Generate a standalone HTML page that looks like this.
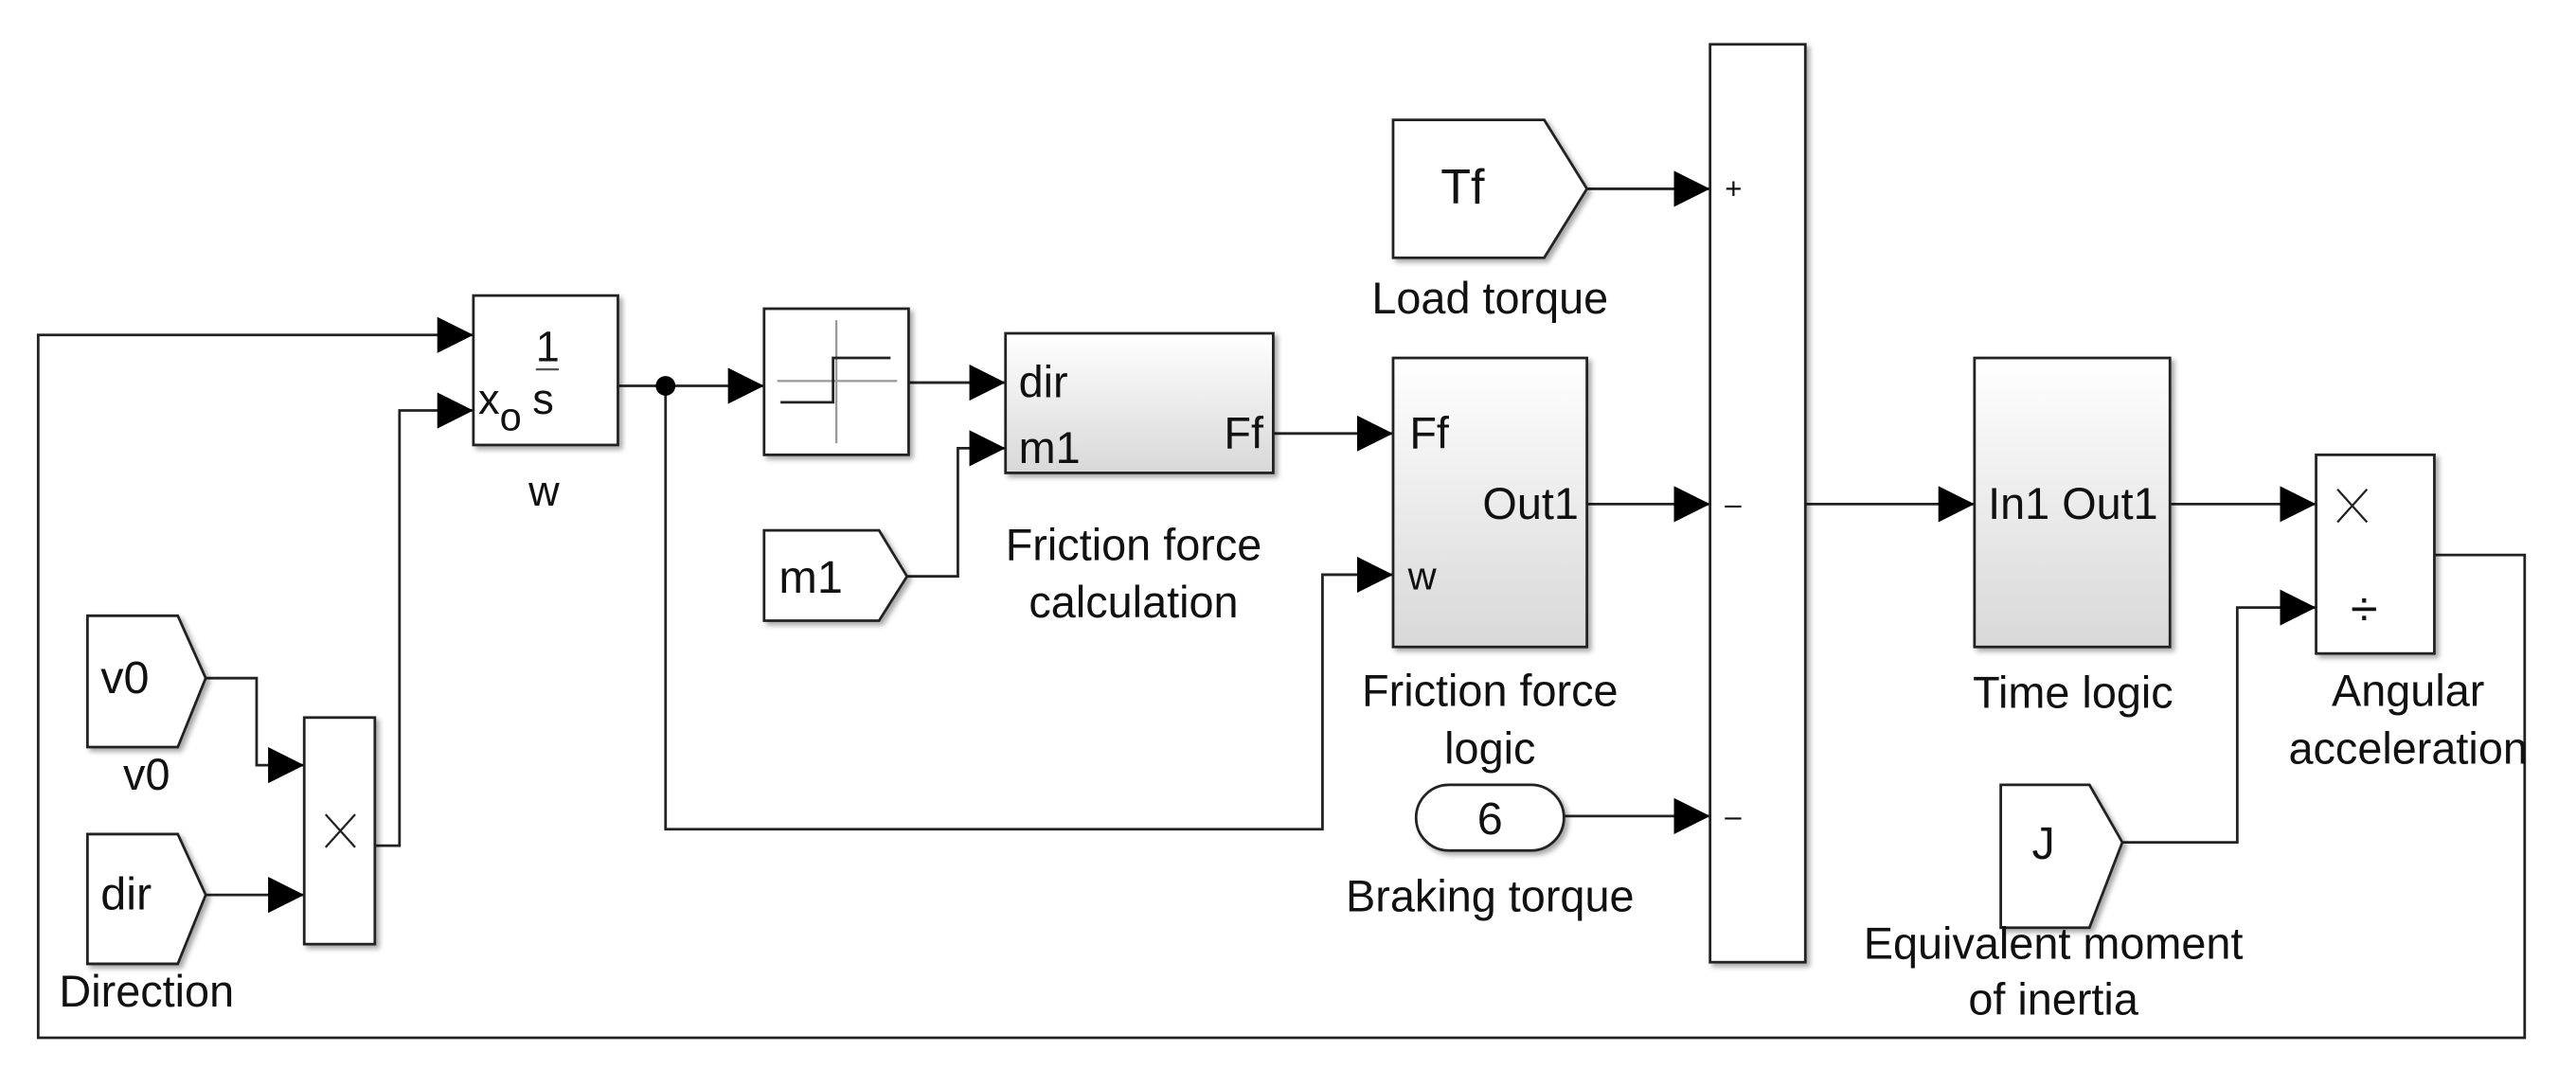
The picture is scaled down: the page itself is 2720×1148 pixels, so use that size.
<!DOCTYPE html>
<html><head><meta charset="utf-8"><style>
html,body{margin:0;padding:0;background:#fff;}
svg{display:block;}
text{font-family:"Liberation Sans",sans-serif;fill:#111;}
</style></head><body>
<svg width="2720" height="1148" viewBox="0 0 1568 662" xmlns="http://www.w3.org/2000/svg">
<defs>
<linearGradient id="g" x1="0" y1="0" x2="0" y2="1"><stop offset="0" stop-color="#fff"/><stop offset="1" stop-color="#d8d8d8"/></linearGradient>
<marker id="a" viewBox="0 0 10 10" refX="10" refY="5" markerWidth="22" markerHeight="22" markerUnits="userSpaceOnUse" orient="auto"><path d="M0,0L10,5L0,10z" fill="#000"/></marker>
<filter id="s" x="-10%" y="-10%" width="130%" height="130%"><feDropShadow dx="2" dy="2" stdDeviation="1.5" flood-color="#000" flood-opacity="0.35"/></filter>
</defs>
<g fill="none" stroke="#222" stroke-width="1.6">
<polyline points="1482,338 1537,338 1537,632 23,632 23,204 288,204" marker-end="url(#a)"/>
<polyline points="228,515 243,515 243,250 288,250" marker-end="url(#a)"/>
<polyline points="125,413 156,413 156,466 185,466" marker-end="url(#a)"/>
<polyline points="125,545 185,545" marker-end="url(#a)"/>
<polyline points="376,235 465,235" marker-end="url(#a)"/>
<polyline points="405,235 405,505 805,505 805,350 848,350" marker-end="url(#a)"/>
<polyline points="553,233 612,233" marker-end="url(#a)"/>
<polyline points="552,351 583,351 583,273 612,273" marker-end="url(#a)"/>
<polyline points="775,264 848,264" marker-end="url(#a)"/>
<polyline points="966,115 1041,115" marker-end="url(#a)"/>
<polyline points="966,307 1041,307" marker-end="url(#a)"/>
<polyline points="952,497 1041,497" marker-end="url(#a)"/>
<polyline points="1099,307 1202,307" marker-end="url(#a)"/>
<polyline points="1321,307 1410,307" marker-end="url(#a)"/>
<polyline points="1292,513 1362,513 1362,370 1410,370" marker-end="url(#a)"/>
</g>
<circle cx="405" cy="235" r="6" fill="#000"/>
<g stroke="#222" stroke-width="1.6" filter="url(#s)">
<rect x="288" y="180" width="88" height="91" fill="#fff"/>
<rect x="465" y="188" width="88" height="89" fill="#fff"/>
<rect x="612" y="203" width="163" height="85" fill="url(#g)"/>
<rect x="848" y="218" width="118" height="176" fill="url(#g)"/>
<rect x="1202" y="218" width="119" height="176" fill="url(#g)"/>
<rect x="1041" y="27" width="58" height="559" fill="#fff"/>
<rect x="1410" y="277" width="72" height="121" fill="#fff"/>
<rect x="185" y="437" width="43" height="138" fill="#fff"/>
<rect x="862" y="478" width="90" height="40" rx="20" fill="#fff"/>
<path d="M53,375H108L125,413L108,455H53Z" fill="#fff"/>
<path d="M53,508H108L125,545L108,587H53Z" fill="#fff"/>
<path d="M465,323H535L552,351L535,378H465Z" fill="#fff"/>
<path d="M848,73H940L966,115L940,157H848Z" fill="#fff"/>
<path d="M1218,478H1272L1292,513L1272,565H1218Z" fill="#fff"/>
</g>
<g stroke-width="1.3" fill="none">
<line x1="473" y1="232" x2="546" y2="232" stroke="#999"/>
<line x1="509" y1="195" x2="509" y2="270" stroke="#999"/>
<polyline points="475,245 507,245 507,218 542,218" stroke="#222" stroke-width="1.6"/>
<line x1="326" y1="225" x2="340" y2="225" stroke="#555"/>
<path d="M1423,298L1441,318M1441,298L1423,318" stroke="#222"/>
<path d="M198,496L216,516M216,496L198,516" stroke="#222"/>
</g>
<g font-size="27">
<text x="326" y="220" font-size="26">1</text>
<text x="324" y="252" font-size="26">s</text>
<text x="291" y="252" font-size="26">x</text><text x="304" y="262" font-size="24">o</text>
<text x="331" y="308" text-anchor="middle" font-size="26">w</text>
<text x="620" y="242">dir</text>
<text x="620" y="282">m1</text>
<text x="769" y="273" text-anchor="end">Ff</text>
<text x="690" y="341" text-anchor="middle">Friction force</text>
<text x="690" y="376" text-anchor="middle">calculation</text>
<text x="474" y="361" font-size="28">m1</text>
<text x="877" y="124" font-size="30">Tf</text>
<text x="907" y="191" text-anchor="middle">Load torque</text>
<text x="858" y="273">Ff</text>
<text x="961" y="316" text-anchor="end">Out1</text>
<text x="857" y="359" font-size="24">w</text>
<text x="907" y="430" text-anchor="middle">Friction force</text>
<text x="907" y="465" text-anchor="middle">logic</text>
<text x="907" y="508" text-anchor="middle" font-size="28">6</text>
<text x="907" y="555" text-anchor="middle">Braking torque</text>
<text x="1050" y="121" font-size="18">+</text>
<text x="1050" y="313" font-size="18">–</text>
<text x="1050" y="503" font-size="18">–</text>
<text x="1262" y="316" text-anchor="middle">In1 Out1</text>
<text x="1262" y="431" text-anchor="middle">Time logic</text>
<text x="1431" y="381" font-size="30">÷</text>
<text x="1466" y="430" text-anchor="middle">Angular</text>
<text x="1466" y="465" text-anchor="middle">acceleration</text>
<text x="1237" y="523" font-size="28">J</text>
<text x="1250" y="584" text-anchor="middle">Equivalent moment</text>
<text x="1250" y="618" text-anchor="middle">of inertia</text>
<text x="61" y="422" font-size="28">v0</text>
<text x="89" y="481" text-anchor="middle">v0</text>
<text x="61" y="554" font-size="28">dir</text>
<text x="89" y="613" text-anchor="middle">Direction</text>
</g>
</svg>
</body></html>
